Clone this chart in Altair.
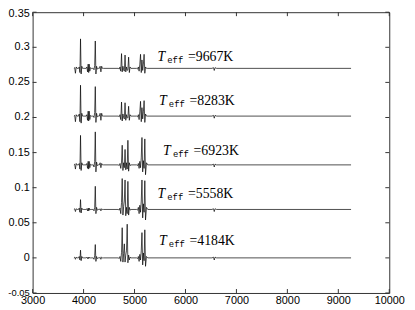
import altair as alt
import pandas as pd

temps = [9667, 8283, 6923, 5558, 4184]
offsets = [0.270, 0.202, 0.1325, 0.069, 0.0]

wave = [3810, 3825, 3840, 3855, 3870, 3885, 3900, 3915, 3928, 3940, 3952, 3965, 3980, 3995, 4010,
        4030, 4050, 4065, 4078, 4090, 4100, 4110, 4122, 4135, 4150, 4170,
        4190, 4205, 4218, 4230, 4242, 4255, 4270, 4290,
        4310, 4325, 4340, 4355, 4370, 4390,
        4680, 4700, 4715, 4730, 4745, 4758, 4772, 4786, 4800, 4814, 4828, 4842, 4856, 4870, 4884,
        4898, 4912, 4930, 4950,
        5040, 5060, 5075, 5090, 5104, 5118, 5132, 5146, 5160, 5174, 5188, 5202, 5216, 5235, 5260,
        6520, 6550, 6565, 6580, 6610, 9250]

dev_9667 = [0, 0.001, -0.007, 0.002, 0, 0, 0, 0.002, -0.006, 0.042, -0.008, 0.003, 0, 0, 0,
            0, 0, 0.002, -0.005, 0.006, -0.006, 0.006, -0.004, 0.001, 0, 0,
            0, -0.002, 0.004, 0.039, -0.008, 0.003, -0.001, 0,
            0, 0.003, -0.005, 0.003, 0, 0,
            0, -0.001, 0.002, -0.004, 0.021, -0.005, 0.003, -0.002, -0.004, 0.019, -0.005, 0.002, -0.003, -0.002, 0.016,
            -0.006, 0.002, 0, 0,
            0, -0.001, 0.002, -0.004, 0.006, 0.020, -0.006, 0.012, -0.003, 0.006, 0.020, -0.007, 0.002, 0, 0,
            0, 0.001, -0.003, 0.001, 0, 0]

dev_8283 = [0, 0.001, -0.008, 0.002, 0, 0, 0, 0.003, -0.008, 0.044, -0.010, 0.004, 0, 0, 0,
            0, 0, 0.002, -0.006, 0.007, -0.007, 0.007, -0.005, 0.001, 0, 0,
            0, -0.002, 0.005, 0.042, -0.009, 0.004, -0.001, 0,
            0, 0.004, -0.006, 0.004, 0, 0,
            0, -0.001, 0.002, -0.005, 0.020, -0.007, 0.003, -0.002, -0.004, 0.019, -0.006, 0.002, -0.003, -0.002, 0.014,
            -0.006, 0.002, 0, 0,
            0, -0.001, 0.002, -0.005, 0.006, 0.021, -0.008, 0.012, -0.004, 0.006, 0.022, -0.009, 0.003, 0, 0,
            0, 0.001, -0.003, 0.001, 0, 0]

dev_6923 = [0, 0.001, -0.006, 0.002, 0, 0, 0, 0.002, -0.006, 0.042, -0.008, 0.003, 0, 0, 0,
            0, 0, 0.002, -0.005, 0.005, -0.006, 0.005, -0.004, 0.001, 0, 0,
            0, -0.003, 0.005, 0.047, -0.010, 0.004, -0.001, 0,
            0, 0.003, -0.004, 0.002, 0, 0,
            0, -0.001, 0.002, -0.005, 0.004, 0.028, -0.008, 0.003, -0.004, 0.022, -0.007, 0.003, -0.006, 0.035, -0.009,
            0.003, -0.001, 0, 0,
            0, -0.001, 0.002, -0.005, 0.005, -0.004, 0.010, 0.039, -0.010, 0.006, -0.005, 0.037, -0.014, 0.003, 0,
            0, 0.001, -0.003, 0.001, 0, 0]

dev_5558 = [0, 0.001, -0.003, 0.001, 0, 0, 0, 0.002, -0.004, 0.014, -0.005, 0.002, 0, 0, 0,
            0, 0, 0.001, -0.002, 0.002, -0.002, 0.002, -0.001, 0, 0, 0,
            0, -0.002, 0.003, 0.033, -0.006, 0.003, -0.001, 0,
            0, 0.001, -0.002, 0.001, 0, 0,
            0, -0.001, 0.002, -0.006, 0.010, 0.044, -0.008, 0.004, 0.012, 0.042, -0.009, 0.003, -0.006, 0.040, -0.008,
            0.003, -0.001, 0, 0,
            0, -0.001, 0.003, -0.006, 0.006, -0.004, 0.012, 0.042, -0.012, 0.008, -0.004, 0.041, -0.015, 0.003, 0,
            0, 0.001, -0.003, 0.001, 0, 0]

dev_4184 = [0, 0.001, -0.002, 0.001, 0, 0, 0, 0.002, -0.003, 0.011, -0.004, 0.002, 0, 0, 0,
            0, 0, 0.001, -0.001, 0.001, -0.001, 0.001, 0, 0, 0, 0,
            0, -0.002, 0.003, 0.019, -0.005, 0.002, -0.001, 0,
            0, 0.001, -0.002, 0.001, 0, 0,
            0, -0.001, 0.002, -0.005, 0.008, 0.043, -0.006, 0.006, 0.020, -0.006, 0.004, 0.010, 0.048, -0.007, 0.004,
            -0.003, 0.001, 0, 0,
            0, -0.001, 0.002, -0.005, 0.005, -0.003, 0.010, 0.036, -0.010, 0.007, -0.004, 0.040, -0.012, 0.002, 0,
            0, 0.001, -0.003, 0.001, 0, 0]

devs = [dev_9667, dev_8283, dev_6923, dev_5558, dev_4184]

label_x = [5450, 5480, 5560, 5450, 5480]
label_y = [0.2854, 0.2237, 0.152, 0.0904, 0.0234]

x_ticks = [3000, 4000, 5000, 6000, 7000, 8000, 9000, 10000]
y_ticks = [-0.05, 0.0, 0.05, 0.1, 0.15, 0.2, 0.25, 0.3, 0.35]
y_labels = ["-0.05", "0", "0.05", "0.1", "0.15", "0.2", "0.25", "0.3", "0.35"]

for d in devs:
    assert len(d) == len(wave), len(d)

rows = []
for t, off, dev in zip(temps, offsets, devs):
    for w, d in zip(wave, dev):
        rows.append({"wave": w, "flux": off + d, "teff": t})
df = pd.DataFrame(rows)

lab = pd.DataFrame({"wave": label_x, "flux": label_y,
                    "val": ["=%dK" % t for t in temps]})
xt = pd.DataFrame({"wave": x_ticks})
yt = pd.DataFrame({"flux": y_ticks, "lbl": y_labels})

W, H = 362, 285
xs = alt.Scale(domain=[3000, 10000], nice=False, zero=False)
ys = alt.Scale(domain=[-0.05, 0.35], nice=False, zero=False)


def Y(**kw):
    return alt.Y("flux:Q", scale=ys, axis=None, **kw)


lines = alt.Chart(df).mark_line(color="black", strokeWidth=0.7).encode(
    x=alt.X("wave:Q", scale=xs,
            axis=alt.Axis(values=x_ticks, format="d", labelPadding=2, labelFlush=False,
                          labelFontSize=11, title=None, grid=False, domain=False, tickSize=0,
                          labelOverlap=False, labelFont="Liberation Sans", labelColor="black")),
    y=Y(),
    detail="teff:N",
)

tick_color = "#333"
xb = alt.Chart(xt).mark_rule(color=tick_color, strokeWidth=1).encode(
    x=alt.X("wave:Q", scale=xs), y=alt.value(H), y2=alt.value(H - 4))
xtop = alt.Chart(xt).mark_rule(color=tick_color, strokeWidth=1).encode(
    x=alt.X("wave:Q", scale=xs), y=alt.value(0), y2=alt.value(4))
yl = alt.Chart(yt).mark_rule(color=tick_color, strokeWidth=1).encode(
    y=Y(), x=alt.value(0), x2=alt.value(4))
yr = alt.Chart(yt).mark_rule(color=tick_color, strokeWidth=1).encode(
    y=Y(), x=alt.value(W), x2=alt.value(W - 4))

ylab_main = alt.Chart(yt).transform_filter("datum.flux < 0.34").mark_text(
    align="right", baseline="middle", font="Liberation Sans", color="black").encode(
    y=Y(), x=alt.value(-3), text="lbl:N",
    size=alt.condition("datum.flux < -0.01", alt.value(9.5), alt.value(11)))
ylab_top = alt.Chart(yt).transform_filter("datum.flux > 0.34").mark_text(
    align="right", baseline="middle", font="Liberation Sans", color="black", fontSize=11, dy=2).encode(
    y=Y(), x=alt.value(-3), text="lbl:N")

t_txt = alt.Chart(lab).mark_text(text="T", font="Liberation Serif", fontStyle="italic",
                                 fontSize=14, align="left", baseline="middle", color="black").encode(
    x=alt.X("wave:Q", scale=xs), y=Y())
eff_txt = alt.Chart(lab).mark_text(text="eff", font="Liberation Mono", fontSize=9,
                                   align="left", baseline="middle", dx=10, dy=3, color="black").encode(
    x=alt.X("wave:Q", scale=xs), y=Y())
val_txt = alt.Chart(lab).mark_text(font="Liberation Serif", fontSize=14,
                                   align="left", baseline="middle", dx=31, color="black").encode(
    x=alt.X("wave:Q", scale=xs), y=Y(), text="val:N")

chart = alt.layer(lines, xb, xtop, yl, yr, ylab_main, ylab_top, t_txt, eff_txt, val_txt).properties(
    width=W, height=H,
    autosize=alt.AutoSizeParams(type="none"),
    padding={"left": 25, "top": 2, "right": 18, "bottom": 15},
).configure_view(stroke="#333", strokeWidth=1)

chart.save("out.html", embed_options={"renderer": "svg", "actions": False})
